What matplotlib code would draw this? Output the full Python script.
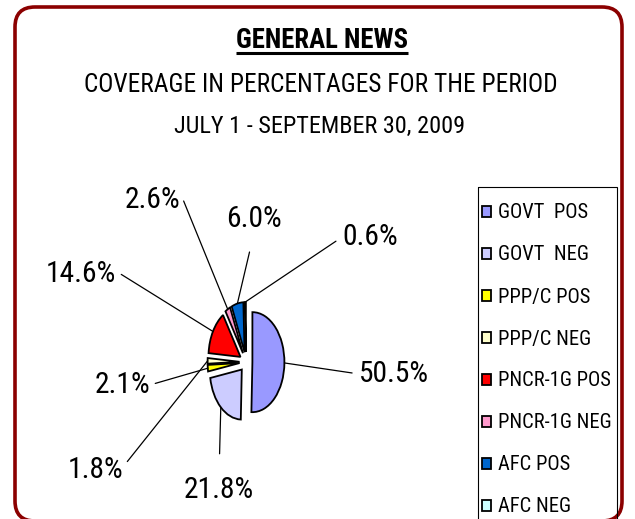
import matplotlib
matplotlib.use('Agg')
import matplotlib.pyplot as plt
from matplotlib.patches import FancyBboxPatch, Rectangle
from matplotlib import font_manager
import numpy as np

categories = ["GOVT  POS", "GOVT  NEG", "PPP/C POS", "PPP/C NEG",
              "PNCR-1G POS", "PNCR-1G NEG", "AFC POS", "AFC NEG"]
values = [50.5, 21.8, 2.1, 1.8, 14.6, 2.6, 6.0, 0.6]
colors = ["#9999FF", "#CCCCFF", "#FFFF00", "#FFFFCC",
          "#FF0000", "#FF99CC", "#0066CC", "#CCFFFF"]
title_lines = ["GENERAL NEWS", "COVERAGE IN PERCENTAGES FOR THE PERIOD",
               "JULY 1 - SEPTEMBER 30, 2009"]

# pick a narrow sans font if one is installed
font = 'Liberation Sans'
for cand in ['Liberation Sans Narrow', 'Arial Narrow', 'Roboto Condensed',
             'DejaVu Sans Condensed', 'Open Sans Condensed']:
    try:
        font_manager.findfont(font_manager.FontProperties(family=cand),
                              fallback_to_default=False)
        font = cand
        break
    except Exception:
        pass
plt.rcParams['font.family'] = [font, 'DejaVu Sans']

W, H = 635, 519
fig = plt.figure(figsize=(W / 100, H / 100), dpi=100)
bg = fig.add_axes([0, 0, 1, 1])
bg.set_xlim(0, W)
bg.set_ylim(H, 0)
bg.axis('off')


def width_of(txt):
    fig.canvas.draw()
    return txt.get_window_extent(fig.canvas.get_renderer()).width


def fit(txt, target):
    for _ in range(2):
        txt.set_fontsize(txt.get_fontsize() * target / width_of(txt))


# rounded dark-red border
bg.add_patch(FancyBboxPatch((15, 7), 607, 514,
                            boxstyle="round,pad=0,rounding_size=20",
                            fc='white', ec='#8B0000', lw=2.6, zorder=0))

# titles
t1 = bg.text(322, 48, title_lines[0], ha='center', va='baseline',
             fontsize=18, fontweight='bold')
t2 = bg.text(321, 92, title_lines[1], ha='center', va='baseline', fontsize=17)
t3 = bg.text(320, 133, title_lines[2], ha='center', va='baseline', fontsize=17)
fit(t1, 172)
fit(t2, 472)
fit(t3, 292)

# pie axes (elliptical pie)
cx, cy, rx, ry, k = 246, 362, 32, 50, 1.6
pax = fig.add_axes([(cx - k * rx) / W, (H - cy - k * ry) / H,
                    2 * k * rx / W, 2 * k * ry / H])
explode = 0.2
wedges, _ = pax.pie(values, colors=colors, startangle=90, counterclock=False,
                    explode=[explode] * len(values),
                    wedgeprops=dict(edgecolor='black', linewidth=1.3))
pax.set_aspect('auto')
pax.set_xlim(-k, k)
pax.set_ylim(-k, k)
pax.axis('off')

# label font size: fit "50.5%" width
probe = bg.text(0, 0, f"{values[0]:.1f}%", fontsize=20)
fit(probe, 70)
label_fs = probe.get_fontsize()
probe.remove()

# data labels with leader lines
label_pos = [(394, 382), (219, 498), (122, 393), (95, 478),
             (81, 282), (152, 208), (254, 227), (370, 245)]
label_rel = [(0, 0.5), (0.5, 1), (1, 0.5), (1, 0.6),
             (1, 0.6), (1, 0.8), (0.5, 0), (0, 0.5)]
label_shrink = [3, 14, 2, 2, 2, 2, 12, 3]
for w, v, pos, rel, sh in zip(wedges, values, label_pos, label_rel, label_shrink):
    mid = np.deg2rad((w.theta1 + w.theta2) / 2)
    px = (1 + explode) * np.cos(mid)
    py = (1 + explode) * np.sin(mid)
    pax.annotate(f"{v:.1f}%", xy=(px, py), xycoords='data',
                 xytext=pos, textcoords=bg.transData,
                 ha='center', va='baseline', fontsize=label_fs,
                 annotation_clip=False,
                 arrowprops=dict(arrowstyle='-', color='black', lw=0.9,
                                 relpos=rel, shrinkA=sh, shrinkB=0))

# legend font: fit longest entry
probe = bg.text(0, 0, categories[4], fontsize=14)
fit(probe, 113)
leg_fs = probe.get_fontsize()
probe.remove()

bg.add_patch(Rectangle((478, 187), 139, 360, fill=False, ec='black', lw=0.8))

fs_px = leg_fs * 100 / 72
spacing = 1.0
anchor_top = 202
for _ in range(3):
    leg = bg.legend(wedges, categories, loc='upper left',
                    bbox_to_anchor=(482 / W, 1 - anchor_top / H),
                    bbox_transform=fig.transFigure,
                    frameon=False, fontsize=leg_fs,
                    handlelength=9 / fs_px, handleheight=9 / fs_px,
                    handletextpad=7 / fs_px, labelspacing=spacing,
                    borderpad=0, borderaxespad=0)
    fig.canvas.draw()
    r = fig.canvas.get_renderer()
    ex = [t.get_window_extent(r) for t in leg.get_texts()]
    pitch = (ex[0].y1 - ex[-1].y1) / (len(ex) - 1)
    spacing += (42 - pitch) / fs_px
    first_center = H - (ex[0].y0 + ex[0].y1) / 2
    anchor_top += 213 - first_center

# underline for main title
fig.canvas.draw()
bb = t1.get_window_extent(fig.canvas.get_renderer())
bg.plot([bb.x0, bb.x1], [53, 53], color='black', lw=2.2, solid_capstyle='butt')

fig.savefig('out.png', dpi=100)
